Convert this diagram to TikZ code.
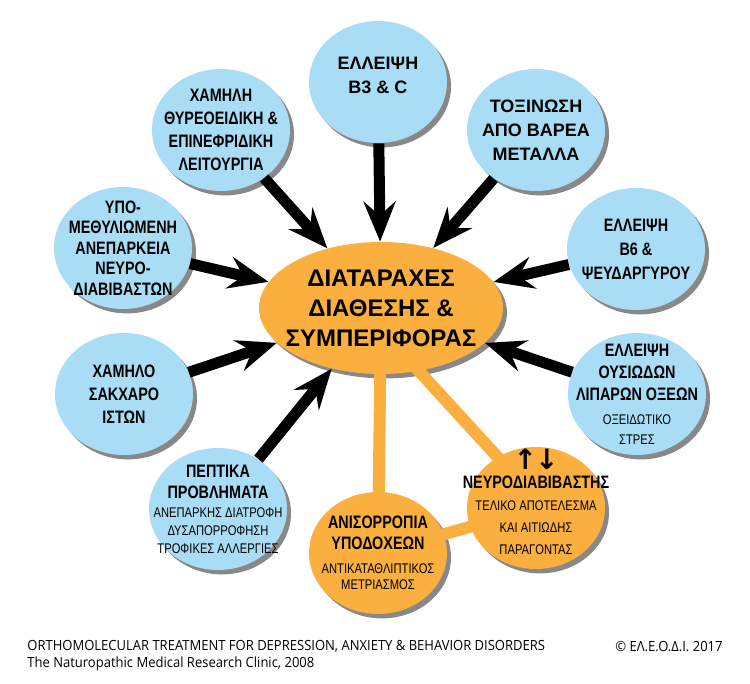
\documentclass[tikz,border=0pt]{standalone}
\usepackage{fontspec}
\setmainfont{Liberation Sans}
\newfontfamily\narrowfont{Liberation Sans}[FakeStretch=0.8]
\newfontfamily\creditfont{Open Sans}[FakeStretch=0.93]
\newfontfamily\tipfont{DejaVu Sans}
\usepackage{tikz}
\definecolor{sky_fill}{RGB}{169,221,246}
\definecolor{amber_fill}{RGB}{250,175,63}
\tikzset{
  core_font/.style = {font=\fontsize{12}{15}\selectfont\bfseries},
  wide_font/.style = {font=\fontsize{9}{12}\selectfont\bfseries},
  bubble_font/.style = {font=\narrowfont\fontsize{9}{11.5}\selectfont\bfseries},
  credit_font/.style = {font=\creditfont\fontsize{7}{8.5}\selectfont},
  soft_shadow/.style = {drop shadow={shadow xshift=2pt, shadow yshift=-2.2pt, opacity=0.55, fill=black!85}}
}
\tikzset{
  bubble/.style = {ellipse, soft_shadow, bubble_font, align=center, inner xsep=-14pt, inner ysep=-14pt, minimum width=69pt, minimum height=61pt},
  cause/.style = {bubble, fill=sky_fill},
  cause_wide/.style = {cause, wide_font},
  effect/.style = {bubble, fill=amber_fill},
  core/.style = {effect, core_font, minimum width=122pt, minimum height=66pt},
  push/.style = {line width=5.5pt, -{Stealth[length=20pt, width=16pt, inset=7pt]}},
  link/.style = {line width=6pt, amber_fill, shorten <=-6pt, shorten >=-6pt},
  credit/.style = {credit_font, anchor=base west, inner sep=0}
}
\newcommand{\subline}[1]{{\mdseries\fontsize{7}{9}\selectfont #1}}
\newcommand{\updown}{{\tipfont\bfseries\fontsize{14}{14}\selectfont ↑\hspace{-1pt}↓}}
\usetikzlibrary{shapes.geometric, arrows.meta, shadows, positioning}

\begin{document}
\begin{tikzpicture}[x=0.5pt, y=-0.5pt]{
        \useasboundingbox (0,0) rectangle (750,684);

        % Centre
        \node[core] at (381,308) (disorders) {
            ΔΙΑΤΑΡΑΧΕΣ\\ΔΙΑΘΕΣΗΣ \&\\ΣΥΜΠΕΡΙΦΟΡΑΣ};

        % Causes
        \node[cause_wide, text height=12pt] at (378,82) (b3) {
            ΕΛΛΕΙΨΗ\\B3 \& C};
        \node[cause] at (221,130) (thyroid) {
            ΧΑΜΗΛΗ\\ΘΥΡΕΟΕΙΔΙΚΗ \&\\ΕΠΙΝΕΦΡΙΔΙΚΗ\\ΛΕΙΤΟΥΡΓΙΑ};
        \node[cause] at (123,248) (methyl) {
            ΥΠΟ-\\[-1.2pt]ΜΕΘΥΛΙΩΜΕΝΗ\\[-1.2pt]ΑΝΕΠΑΡΚΕΙΑ\\[-1.2pt]ΝΕΥΡΟ-\\[-1.2pt]ΔΙΑΒΙΒΑΣΤΩΝ};
        \node[cause] at (124,394) (sugar) {
            ΧΑΜΗΛΟ\\ΣΑΚΧΑΡΟ\\ΙΣΤΩΝ};
        \node[cause] at (218,509) (digest) {
            ΠΕΠΤΙΚΑ\\[-1pt]ΠΡΟΒΛΗΜΑΤΑ\\[-2pt]
            \subline{ΑΝΕΠΑΡΚΗΣ ΔΙΑΤΡΟΦΗ}\\[-2.5pt]
            \subline{ΔΥΣΑΠΟΡΡΟΦΗΣΗ}\\[-2.5pt]
            \subline{ΤΡΟΦΙΚΕΣ ΑΛΛΕΡΓΙΕΣ}};
        \node[cause] at (637,394) (lipids) {
            ΕΛΛΕΙΨΗ\\[-0.5pt]ΟΥΣΙΩΔΩΝ\\[-0.5pt]ΛΙΠΑΡΩΝ ΟΞΕΩΝ\\[0.5pt]
            \subline{ΟΞΕΙΔΩΤΙΚΟ}\\[-1.5pt]
            \subline{ΣΤΡΕΣ}};
        \node[cause] at (636,249) (b6) {
            ΕΛΛΕΙΨΗ\\[0.5pt]B6 \&\\[0.5pt]ΨΕΥΔΑΡΓΥΡΟΥ};
        \node[cause_wide] at (536,130) (metals) {
            ΤΟΞΙΝΩΣΗ\\ΑΠΟ ΒΑΡΕΑ\\ΜΕΤΑΛΛΑ};

        % Effects
        \node[effect] at (378,553) (imbalance) {
            ΑΝΙΣΟΡΡΟΠΙΑ\\[-1pt]ΥΠΟΔΟΧΕΩΝ\\[0.5pt]
            \subline{ΑΝΤΙΚΑΤΑΘΛΙΠΤΙΚΟΣ}\\[-3.5pt]
            \subline{ΜΕΤΡΙΑΣΜΟΣ}};
        \node[effect, text depth=6pt] at (536,508) (neuro) {
            \updown\\[-2pt]ΝΕΥΡΟΔΙΑΒΙΒΑΣΤΗΣ\\[-0.5pt]
            \subline{ΤΕΛΙΚΟ ΑΠΟΤΕΛΕΣΜΑ}\\[-0.5pt]
            \subline{ΚΑΙ ΑΙΤΙΩΔΗΣ}\\[-0.5pt]
            \subline{ΠΑΡΑΓΟΝΤΑΣ}};

        % Arrows and lines
        \draw[push] (b3)--(disorders);
        \draw[push] (thyroid)--(disorders);
        \draw[push] (methyl)--(disorders);
        \draw[push] (sugar)--(disorders);
        \draw[push] (digest)--(disorders);
        \draw[push] (lipids)--(disorders);
        \draw[push] (b6)--(disorders);
        \draw[push] (metals)--(disorders);

        \draw[link] (disorders)--(imbalance);
        \draw[link] (disorders.-59)--(neuro.127);
        \draw[link] (imbalance)--(neuro);

        % Credits
        \node[credit] at (27,650) (credit_title) {
            ORTHOMOLECULAR TREATMENT FOR DEPRESSION, ANXIETY \& BEHAVIOR DISORDERS};
        \node[credit] at ([yshift=-8.5pt]credit_title.base west) (credit_clinic) {
            The Naturopathic Medical Research Clinic, 2008};
        \node[credit] at (615,651) (copyright) {
            © ΕΛ.Ε.Ο.Δ.Ι. 2017};
        }
    \end{tikzpicture}
\end{document}
